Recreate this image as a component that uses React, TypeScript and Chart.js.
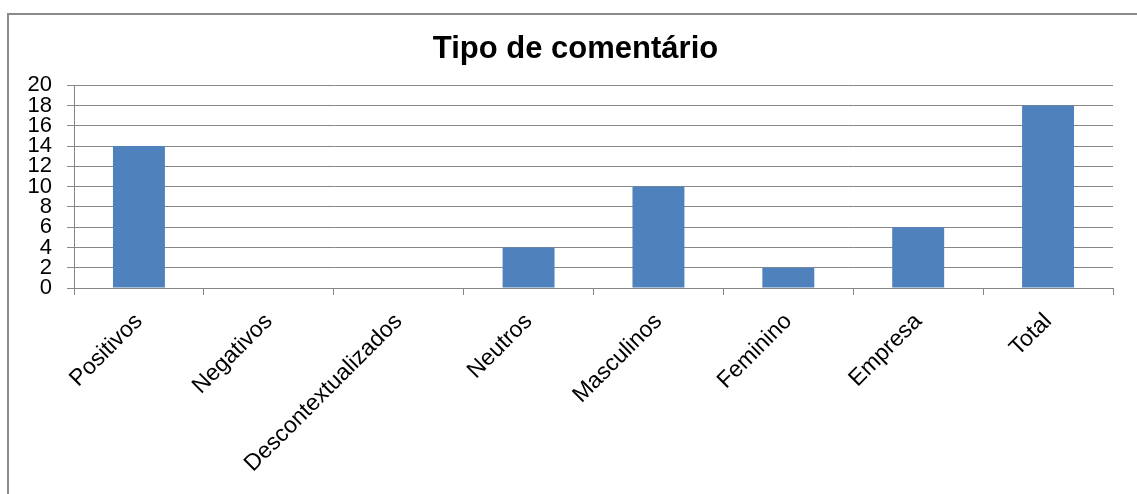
import React, { useEffect, useRef } from "react";
import { Chart, registerables } from "chart.js";

Chart.register(...registerables);

const categories = [
  "Positivos",
  "Negativos",
  "Descontextualizados",
  "Neutros",
  "Masculinos",
  "Feminino",
  "Empresa",
  "Total",
];
const values = [14, 0, 0, 4, 10, 2, 6, 18];
const titleText = "Tipo de comentário";
const yMin = 0;
const yMax = 20;
const yStep = 2;

const FONT = "'Liberation Sans', Arial, sans-serif";
const GRID = "#878787";

const titleShift = {
  id: "titleShift",
  afterLayout(chart: any) {
    if (chart.titleBlock) {
      chart.titleBlock.left = 38;
    }
  },
};

export default function App() {
  const ref = useRef<HTMLCanvasElement | null>(null);

  useEffect(() => {
    if (!ref.current) return;
    const chart = new Chart(ref.current, {
      type: "bar",
      data: {
        labels: categories,
        datasets: [
          {
            data: values,
            backgroundColor: "#4F81BD",
            borderWidth: 0,
            barPercentage: 0.4,
            categoryPercentage: 1,
          },
        ],
      },
      plugins: [titleShift],
      options: {
        responsive: false,
        animation: false,
        layout: { padding: { left: 0, right: 24, top: 0, bottom: 0 } },
        plugins: {
          legend: { display: false },
          tooltip: { enabled: false },
          title: {
            display: true,
            text: titleText,
            color: "#000",
            font: { family: FONT, size: 31, weight: "bold", lineHeight: 1.2 },
            padding: { top: 31, bottom: 17 },
          },
        },
        scales: {
          x: {
            offset: true,
            grid: {
              display: true,
              drawOnChartArea: false,
              drawTicks: true,
              tickLength: 7,
              offset: true,
              color: GRID,
              lineWidth: 1,
            },
            border: { display: true, color: GRID, width: 1 },
            ticks: {
              minRotation: 45,
              maxRotation: 45,
              autoSkip: false,
              padding: 13,
              color: "#000",
              font: { family: FONT, size: 23 },
            },
            afterFit: (scale: any) => {
              scale.height = 206;
            },
          },
          y: {
            min: yMin,
            max: yMax,
            grid: {
              color: GRID,
              lineWidth: 1,
              drawTicks: true,
              tickLength: 7,
            },
            border: { display: true, color: GRID, width: 1 },
            ticks: {
              stepSize: yStep,
              autoSkip: false,
              padding: 15,
              color: "#000",
              font: { family: FONT, size: 22, lineHeight: 1 },
            },
            afterFit: (scale: any) => {
              scale.width = 74;
            },
          },
        },
      },
    });
    return () => chart.destroy();
  }, []);

  return (
    <div
      style={{
        position: "fixed",
        left: 0,
        top: 0,
        width: 1137,
        height: 494,
        overflow: "hidden",
        background: "#fff",
      }}
    >
      <div
        style={{
          position: "absolute",
          left: 7,
          top: 13,
          width: 2000,
          height: 1000,
          border: "2px solid #8a8a8a",
        }}
      />
      <canvas
        ref={ref}
        width={1137}
        height={494}
        style={{ position: "absolute", left: 0, top: 0, display: "block" }}
      />
    </div>
  );
}
